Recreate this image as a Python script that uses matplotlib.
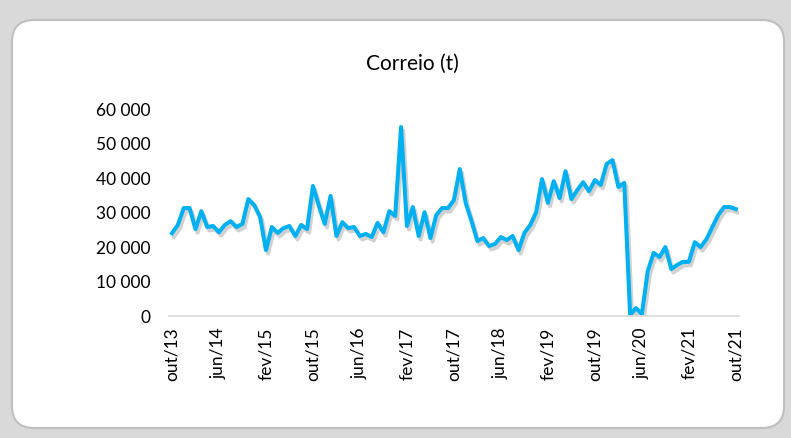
import numpy as np
import matplotlib
matplotlib.use("Agg")
import matplotlib.pyplot as plt
import matplotlib.patheffects as pe
from matplotlib.patches import FancyBboxPatch
from matplotlib.transforms import IdentityTransform

# monthly mail cargo, out/13 .. out/21
correio = [24000, 26400, 31300, 31300, 25200, 30400, 25800, 26100, 24300, 26400,
           27500, 25800, 26700, 33900, 32200, 28700, 19100, 25800, 24100, 25500,
           26100, 23200, 26400, 25200, 37700, 32000, 26700, 34800, 23200, 27200,
           25500, 25800, 23200, 23800, 22900, 27000, 24300, 30400, 29000, 54800,
           26100, 31600, 23200, 30100, 22600, 29300, 31300, 31300, 33600, 42600,
           32800, 27500, 21700, 22600, 20300, 20900, 22900, 22000, 23200, 19100,
           24100, 26400, 30100, 39700, 32800, 39100, 34200, 42000, 33900, 36500,
           38800, 36200, 39400, 38000, 44100, 45200, 37400, 38600, 300, 2300,
           600, 13000, 18300, 17100, 20000, 13600, 14800, 15700, 15700, 21400,
           20000, 22300, 25800, 29300, 31600, 31600, 31000]
tick_labels = ["out/13", "jun/14", "fev/15", "out/15", "jun/16", "fev/17", "out/17",
               "jun/18", "fev/19", "out/19", "jun/20", "fev/21", "out/21"]
y_ticks = [0, 10000, 20000, 30000, 40000, 50000, 60000]

plt.rcParams['font.family'] = ['Lato', 'DejaVu Sans']

fig = plt.figure(figsize=(7.91, 4.38), dpi=100)
fig.patch.set_facecolor("#d9d9d9")

# white rounded panel
panel = FancyBboxPatch((12, 10), 772, 408, boxstyle="round,pad=0,rounding_size=22",
                       transform=IdentityTransform(), facecolor="white",
                       edgecolor="#bfbfbf", linewidth=1.5, zorder=-1)
fig.patches.append(panel)

ax = fig.add_axes([0.2137, 0.2785, 0.7203, 0.4725])
ax.set_zorder(1)
ax.set_facecolor("none")
x = np.arange(len(correio))
ax.plot(x, correio, color="#00b0f0", linewidth=2.9, solid_joinstyle="round",
        path_effects=[pe.SimpleLineShadow(offset=(1.5, -2.5), shadow_color="black", alpha=0.18),
                      pe.Normal()])

ax.set_xlim(-0.5, len(correio) - 0.5)
ax.set_ylim(0, 60000)
ax.set_yticks(y_ticks)
ax.set_yticklabels([f"{v:,}".replace(",", " ") for v in y_ticks], fontsize=12.5)
ax.set_xticks(np.arange(0, len(correio), 8))
ax.set_xticklabels(tick_labels, rotation=90, fontsize=12.5)
ax.tick_params(length=0, pad=8)
ax.tick_params(axis="y", pad=13.5)

for s in ["top", "right", "left"]:
    ax.spines[s].set_visible(False)
ax.spines["bottom"].set_color("#d9d9d9")
ax.spines["bottom"].set_linewidth(1.2)

fig.text(0.522, 0.855, "Correio (t)", ha="center", va="center", fontsize=15)

fig.savefig("out.png", dpi=100, facecolor=fig.get_facecolor())
